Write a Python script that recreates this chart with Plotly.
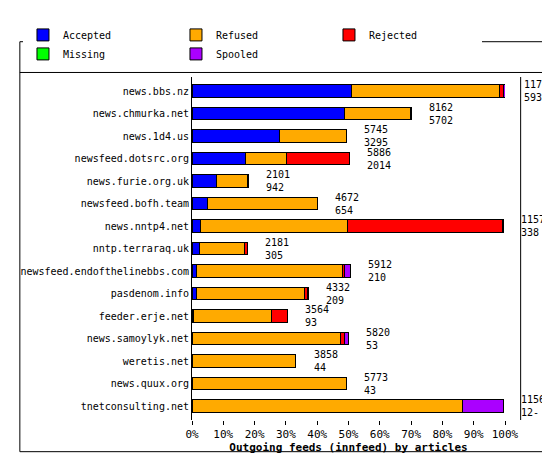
import plotly.graph_objects as go

# feeds, top to bottom
feeds = ["news.bbs.nz", "news.chmurka.net", "news.1d4.us", "newsfeed.dotsrc.org",
         "news.furie.org.uk", "newsfeed.bofh.team", "news.nntp4.net", "nntp.terraraq.uk",
         "newsfeed.endofthelinebbs.com", "pasdenom.info", "feeder.erje.net",
         "news.samoylyk.net", "weretis.net", "news.quux.org", "tnetconsulting.net"]

# percent of largest feed
accepted = [51.0, 48.6, 28.0, 17.1, 7.7, 5.1, 2.7, 2.3, 1.5, 1.5, 0.4, 0.2, 0.1, 0.1, 0.1]
refused  = [47.3, 21.3, 21.2, 13.0, 10.1, 34.9, 46.9, 14.6, 46.7, 34.6, 25.0, 47.1, 32.9, 49.1, 86.3]
rejected = [1.2, 0.1, 0.0, 20.1, 0.2, 0.0, 49.6, 0.7, 0.6, 0.8, 5.2, 1.5, 0.0, 0.0, 0.0]
missing  = [0.0] * 15
spooled  = [0.9, 0.0, 0.2, 0.2, 0.0, 0.2, 0.2, 0.2, 1.7, 0.2, 0.0, 1.1, 0.2, 0.2, 13.0]

totals  = [11705, 8162, 5745, 5886, 2101, 4672, 11570, 2181, 5912, 4332, 3564, 5820, 3858, 5773, 11567]
seconds = ["5936", "5702", "3295", "2014", "942", "654", "338", "305", "210", "209", "93", "53", "44", "43", "12-"]

series = [("Accepted", accepted, "#0000FF"), ("Refused", refused, "#FFAA00"),
          ("Rejected", rejected, "#FF0000"), ("Missing", missing, "#00FF00"),
          ("Spooled", spooled, "#AA00FF")]

font = "DejaVu Sans Mono"
fig = go.Figure()
for name, vals, col in series:
    fig.add_trace(go.Bar(y=feeds, x=vals, name=name, orientation="h",
                         marker=dict(color=col, line=dict(color="black", width=1)),
                         width=0.55))

# number labels right of each bar (paper x so they are not clipped past 100%)
ends = [a + b + c + d + e for a, b, c, d, e in zip(accepted, refused, rejected, missing, spooled)]
for f, e, t, s in zip(feeds, ends, totals, seconds):
    fig.add_annotation(x=(e + 5) / 100, xref="paper", y=f, text=f"{t}<br>{s}",
                       showarrow=False, xanchor="left", yanchor="middle", align="left",
                       font=dict(family=font, size=10, color="black"))

fig.update_layout(
    width=550, height=455, barmode="stack", bargap=0.4,
    paper_bgcolor="white", plot_bgcolor="white",
    margin=dict(l=177, r=53, t=40, b=36),
    font=dict(family=font, size=11, color="black"),
    showlegend=True,
    legend=dict(orientation="h", x=-0.54, y=1.095, xanchor="left", yanchor="middle",
                traceorder="normal", font=dict(size=10),
                entrywidth=108, entrywidthmode="pixels"),
    xaxis=dict(range=[0, 100], tickvals=list(range(0, 101, 10)),
               ticktext=[f"{v}%" for v in range(0, 101, 10)],
               showgrid=False, ticks="outside", ticklen=4, tickcolor="black",
               showline=False, zeroline=False, fixedrange=True,
               title=dict(text="<b>Outgoing feeds (innfeed) by articles</b>",
                          standoff=2, font=dict(size=11))),
    yaxis=dict(autorange="reversed", showgrid=False, ticks="", ticklen=0,
               showline=True, linecolor="black", zeroline=False,
               tickfont=dict(size=10)),
    shapes=[
        dict(type="rect", xref="paper", yref="paper", x0=-176/320, x1=372/320,
             y0=-35/379, y1=1 + 39/379, line=dict(color="black", width=1)),
        dict(type="line", xref="paper", yref="paper", x0=-176/320, x1=372/320,
             y0=1 + 5/379, y1=1 + 5/379, line=dict(color="black", width=1)),
        dict(type="line", xref="paper", yref="paper", x0=1.05, x1=1.05,
             y0=0, y1=1, line=dict(color="black", width=1)),
    ],
)

fig.write_html("out.html")
